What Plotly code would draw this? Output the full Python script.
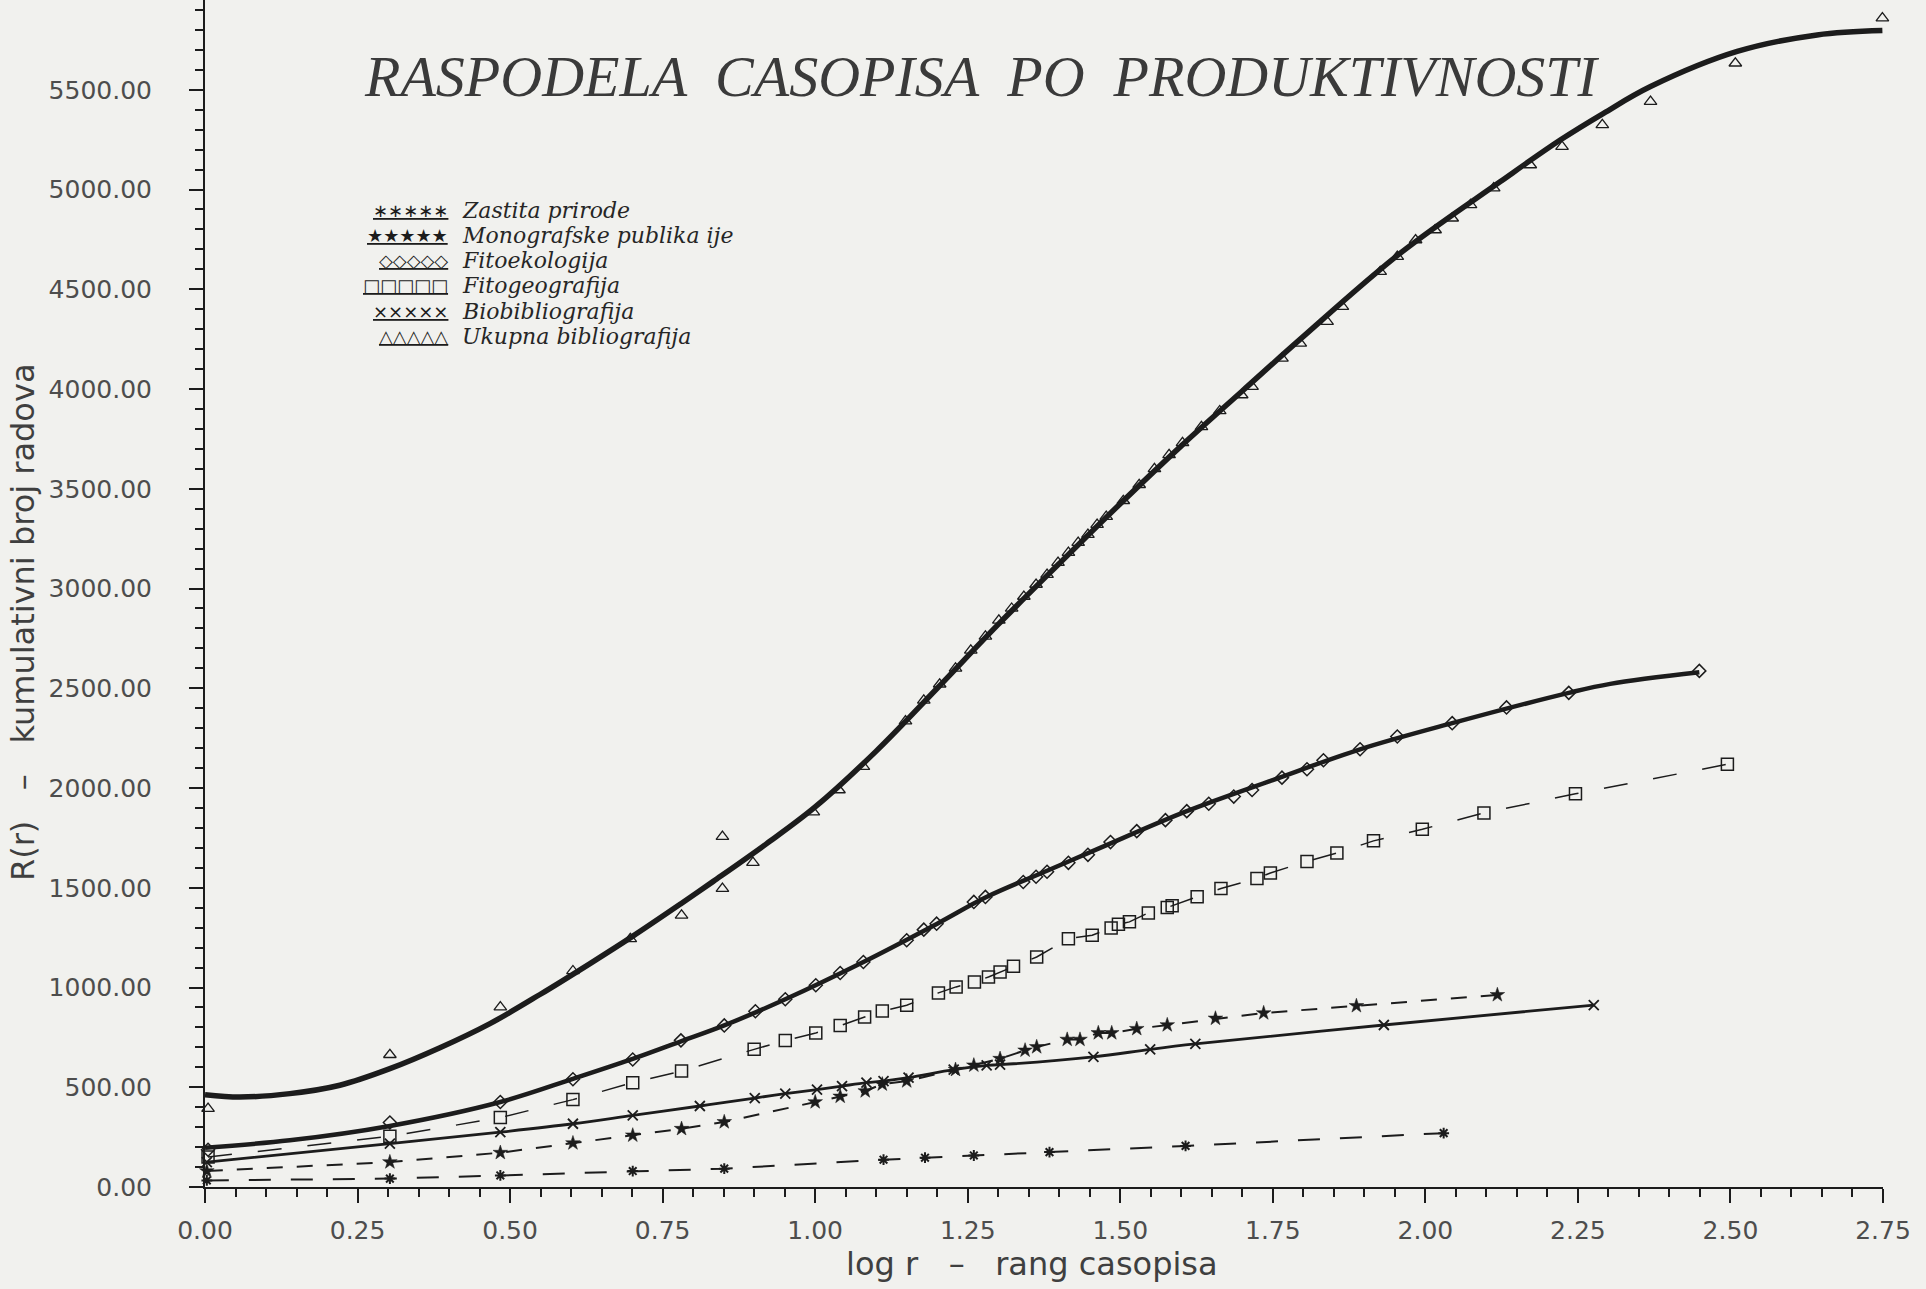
import plotly.graph_objects as go

# --- data (x = log r, y = cumulative count) ---
# Ukupna bibliografija: observed points (triangles) and fitted curve
uk_x = [0.005, 0.303, 0.484, 0.603, 0.697, 0.781, 0.848, 0.848, 0.898, 0.997, 1.039, 1.079,
        1.148, 1.178, 1.204, 1.230, 1.255, 1.279, 1.301, 1.322, 1.342, 1.362, 1.380, 1.398,
        1.415, 1.431, 1.447, 1.462, 1.477, 1.505, 1.531, 1.556, 1.580, 1.602, 1.633, 1.663,
        1.699, 1.716, 1.765, 1.795, 1.839, 1.864, 1.926, 1.954, 1.984, 2.016, 2.044, 2.074,
        2.112, 2.172, 2.224, 2.290, 2.369, 2.508, 2.749]
uk_y = [393, 663, 902, 1083, 1244, 1362, 1496, 1756, 1626, 1879, 1990, 2107,
        2335, 2439, 2520, 2600, 2690, 2760, 2840, 2900, 2960, 3020, 3070, 3130,
        3180, 3230, 3270, 3320, 3360, 3440, 3520, 3600, 3670, 3730, 3810, 3890,
        3970, 4012, 4154, 4229, 4338, 4413, 4588, 4664, 4747, 4797, 4856, 4923,
        5007, 5123, 5215, 5324, 5441, 5633, 5859]
uk_fit_x = [0.0, 0.057, 0.139, 0.221, 0.303, 0.385, 0.467, 0.549, 0.631, 0.70, 0.78, 0.833,
            0.92, 1.0, 1.1, 1.2, 1.3, 1.4, 1.5, 1.6, 1.7, 1.795, 1.959, 2.123, 2.221, 2.292,
            2.369, 2.511, 2.642, 2.749]
uk_fit_y = [463, 451, 468, 510, 593, 698, 819, 965, 1120, 1255, 1420, 1532,
            1720, 1905, 2185, 2500, 2820, 3125, 3425, 3715, 3990, 4250, 4681, 5040, 5248, 5382,
            5516, 5692, 5775, 5797]

# Fitoekologija
fe_x = [0.005, 0.303, 0.484, 0.603, 0.701, 0.780, 0.851, 0.902, 0.951, 1.001, 1.041, 1.079,
        1.150, 1.178, 1.199, 1.260, 1.279, 1.341, 1.362, 1.380, 1.415, 1.447, 1.484, 1.527,
        1.574, 1.609, 1.645, 1.686, 1.716, 1.765, 1.806, 1.833, 1.893, 1.954, 2.044, 2.133,
        2.235, 2.449]
fe_y = [187, 323, 426, 540, 639, 735, 810, 881, 941, 1011, 1073, 1128,
        1237, 1290, 1320, 1429, 1454, 1529, 1555, 1580, 1625, 1665, 1729, 1784,
        1839, 1884, 1921, 1957, 1990, 2052, 2094, 2139, 2194, 2258, 2325, 2404,
        2477, 2587]
fe_fit_x = [0.0, 0.139, 0.303, 0.484, 0.604, 0.702, 0.78, 0.851, 0.951, 1.079, 1.2, 1.279,
            1.38, 1.467, 1.609, 1.75, 1.893, 2.044, 2.235, 2.303, 2.449]
fe_fit_y = [197, 234, 306, 426, 543, 643, 730, 810, 941, 1128, 1320, 1451,
            1585, 1700, 1884, 2040, 2194, 2325, 2477, 2522, 2580]

# Fitogeografija
fg_x = [0.005, 0.303, 0.484, 0.603, 0.701, 0.781, 0.900, 0.951, 1.001, 1.041, 1.081, 1.110,
        1.150, 1.202, 1.231, 1.261, 1.284, 1.303, 1.325, 1.363, 1.415, 1.454, 1.485, 1.497,
        1.515, 1.546, 1.577, 1.585, 1.626, 1.665, 1.724, 1.746, 1.806, 1.855, 1.915, 1.995,
        2.096, 2.246, 2.495]
fg_y = [150, 254, 348, 438, 523, 581, 690, 734, 772, 809, 852, 882,
        911, 973, 1003, 1028, 1053, 1078, 1106, 1153, 1245, 1262, 1298, 1317,
        1329, 1374, 1401, 1410, 1455, 1496, 1547, 1574, 1632, 1674, 1735, 1793,
        1875, 1971, 2119]

# Biobibliografija
bb_x = [0.003, 0.303, 0.484, 0.603, 0.701, 0.811, 0.901, 0.951, 1.003, 1.044, 1.084, 1.112,
        1.153, 1.227, 1.281, 1.303, 1.456, 1.549, 1.623, 1.932, 2.276]
bb_y = [125, 217, 275, 317, 359, 406, 446, 468, 488, 506, 523, 531,
        548, 588, 610, 613, 652, 690, 717, 812, 912]

# Monografske publikacije
mp_x = [0.003, 0.303, 0.484, 0.603, 0.701, 0.781, 0.851, 1.0, 1.041, 1.082, 1.110, 1.150,
        1.230, 1.260, 1.303, 1.344, 1.363, 1.413, 1.434, 1.464, 1.486, 1.527, 1.577, 1.656,
        1.735, 1.887, 2.118]
mp_y = [80, 125, 172, 220, 259, 292, 326, 426, 454, 481, 515, 531,
        588, 610, 643, 685, 702, 739, 739, 772, 772, 793, 812, 845,
        872, 908, 963]

# Zastita prirode
zp_x = [0.003, 0.303, 0.484, 0.701, 0.851, 1.112, 1.180, 1.260, 1.384, 1.607, 2.030]
zp_y = [33, 42, 58, 80, 92, 137, 147, 158, 175, 206, 270]

x_ticks = [0.0, 0.25, 0.5, 0.75, 1.0, 1.25, 1.5, 1.75, 2.0, 2.25, 2.5, 2.75]
y_ticks = [0, 500, 1000, 1500, 2000, 2500, 3000, 3500, 4000, 4500, 5000, 5500]

legend_rows = [
    ("∗∗∗∗∗", "Zastita prirode"),
    ("★★★★★", "Monografske publika ije"),
    ("◇◇◇◇◇", "Fitoekologija"),
    ("□□□□□", "Fitogeografija"),
    ("×××××", "Biobibliografija"),
    ("△△△△△", "Ukupna bibliografija"),
]

INK = "#1c1c1c"
PAPER = "#f1f1ee"

fig = go.Figure()

# lines
fig.add_trace(go.Scatter(x=zp_x, y=zp_y, mode="lines", cliponaxis=False,
                         line=dict(color=INK, width=2, dash="22px,20px")))
fig.add_trace(go.Scatter(x=mp_x, y=mp_y, mode="lines", cliponaxis=False,
                         line=dict(color=INK, width=2, dash="16px,14px")))
fig.add_trace(go.Scatter(x=fg_x, y=fg_y, mode="lines", cliponaxis=False,
                         line=dict(color=INK, width=1.5, dash="24px,26px")))
fig.add_trace(go.Scatter(x=bb_x, y=bb_y, mode="lines", cliponaxis=False,
                         line=dict(color=INK, width=2.8, shape="spline")))
fig.add_trace(go.Scatter(x=fe_fit_x, y=fe_fit_y, mode="lines", cliponaxis=False,
                         line=dict(color=INK, width=4.5, shape="spline")))
fig.add_trace(go.Scatter(x=uk_fit_x, y=uk_fit_y, mode="lines", cliponaxis=False,
                         line=dict(color=INK, width=5.5, shape="spline")))

# markers
def add_markers(xs, ys, symbol, size, lw=1.3):
    fig.add_trace(go.Scatter(
        x=xs, y=ys, mode="markers", cliponaxis=False,
        marker=dict(symbol=symbol, size=size, color=INK,
                    line=dict(color=INK, width=lw)),
    ))

add_markers(zp_x, zp_y, "asterisk-open", 9, 2)
add_markers(mp_x, mp_y, "star", 11, 0.5)
add_markers(fg_x, fg_y, "square-open", 12, 1.5)
add_markers(bb_x, bb_y, "x-thin-open", 10, 1.8)
add_markers(fe_x, fe_y, "diamond-open", 10, 1.5)
add_markers(uk_x, uk_y, "triangle-up-open", 11, 1.3)

# geometry of the plot area in pixels (used to place text annotations)
W, H = 1926, 1289
L, R, T, B = 205, 43, 0, 102
pw, ph = W - L - R, H - T - B


def px(x):
    return (x - L) / pw


def py(y):
    return (H - B - y) / ph


annotations = [
    dict(text="RASPODELA  CASOPISA  PO  PRODUKTIVNOSTI", x=px(982), y=py(76),
         xref="paper", yref="paper", showarrow=False, xanchor="center", yanchor="middle",
         font=dict(family="Liberation Serif", size=58, color="#3a3a3a", style="italic")),
    dict(text="log r   –   rang casopisa", x=px(1032), y=py(1264),
         xref="paper", yref="paper", showarrow=False, xanchor="center", yanchor="middle",
         font=dict(family="DejaVu Sans", size=32, color="#3f3f3f")),
    dict(text="R(r)   –   kumulativni broj radova", x=px(23), y=py(622), textangle=-90,
         xref="paper", yref="paper", showarrow=False, xanchor="center", yanchor="middle",
         font=dict(family="DejaVu Sans", size=32, color="#3f3f3f")),
]

for i, (glyphs, label) in enumerate(legend_rows):
    yc = 211 + i * 25
    annotations.append(dict(
        text="<u>" + glyphs + "</u>", x=px(450), y=py(yc), xref="paper", yref="paper",
        showarrow=False, xanchor="right", yanchor="middle",
        font=dict(family="DejaVu Sans", size=18, color=INK)))
    annotations.append(dict(
        text=label, x=px(460), y=py(yc), xref="paper", yref="paper",
        showarrow=False, xanchor="left", yanchor="middle",
        font=dict(family="DejaVu Serif", size=22, color="#262626", style="italic")))

axis_common = dict(
    showgrid=False, zeroline=False, showline=True, linecolor=INK, linewidth=2,
    ticks="outside", ticklen=14, tickwidth=2, tickcolor=INK,
    tickfont=dict(family="DejaVu Sans", size=25, color="#4d4d4d"),
)

fig.update_layout(
    width=W, height=H,
    margin=dict(l=L, r=R, t=T, b=B, pad=0),
    paper_bgcolor=PAPER, plot_bgcolor=PAPER,
    showlegend=False,
    annotations=annotations,
    xaxis=dict(range=[0, 2.75], tickvals=x_ticks,
               ticktext=[f"{v:.2f}" for v in x_ticks], ticklabelstandoff=6,
               minor=dict(dtick=0.05, ticks="outside", ticklen=8, tickwidth=2, tickcolor=INK),
               **axis_common),
    yaxis=dict(range=[0, 5950], tickvals=y_ticks,
               ticktext=[f"{v:.2f}" for v in y_ticks], ticklabelstandoff=32,
               minor=dict(dtick=100, ticks="outside", ticklen=8, tickwidth=2, tickcolor=INK),
               **axis_common),
)

fig.write_html("out.html", config={"displayModeBar": False},
               post_script="document.body.style.margin='0';document.body.style.overflow='hidden';")
